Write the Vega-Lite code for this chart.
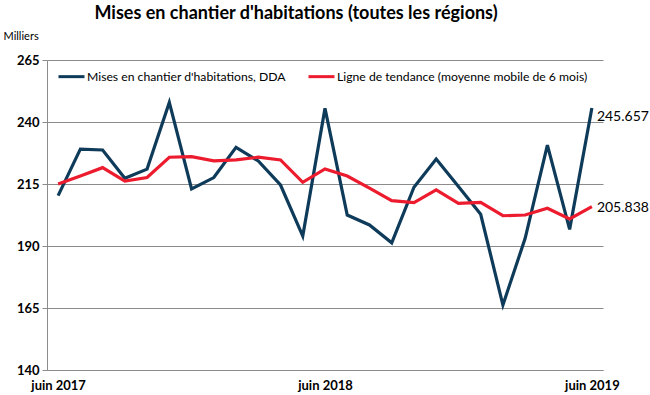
{
  "$schema": "https://vega.github.io/schema/vega-lite/v6.json",
  "width": 556,
  "height": 310,
  "autosize": {"type": "none"},
  "padding": {"left": 47, "top": 60, "right": 47, "bottom": 25},
  "background": "white",
  "config": {"font": "Lato", "view": {"stroke": null}},
  "title": {
    "text": "Mises en chantier d'habitations (toutes les régions)",
    "fontSize": 18,
    "fontWeight": "bold",
    "anchor": "middle",
    "frame": "group",
    "dx": -29,
    "dy": -3,
    "color": "black"
  },
  "data": {
    "values": [
      {"mois": "2017-06", "dda": 210.3, "tendance": 215.0},
      {"mois": "2017-07", "dda": 229.1, "tendance": 218.2},
      {"mois": "2017-08", "dda": 228.7, "tendance": 221.6},
      {"mois": "2017-09", "dda": 217.3, "tendance": 216.2},
      {"mois": "2017-10", "dda": 221.0, "tendance": 217.6},
      {"mois": "2017-11", "dda": 247.9, "tendance": 225.8},
      {"mois": "2017-12", "dda": 213.0, "tendance": 226.0},
      {"mois": "2018-01", "dda": 217.6, "tendance": 224.3},
      {"mois": "2018-02", "dda": 229.8, "tendance": 224.7},
      {"mois": "2018-03", "dda": 224.3, "tendance": 225.8},
      {"mois": "2018-04", "dda": 214.6, "tendance": 224.7},
      {"mois": "2018-05", "dda": 194.0, "tendance": 215.7},
      {"mois": "2018-06", "dda": 245.5, "tendance": 221.1},
      {"mois": "2018-07", "dda": 202.5, "tendance": 218.2},
      {"mois": "2018-08", "dda": 198.5, "tendance": 213.3},
      {"mois": "2018-09", "dda": 191.3, "tendance": 208.3},
      {"mois": "2018-10", "dda": 213.7, "tendance": 207.5},
      {"mois": "2018-11", "dda": 225.1, "tendance": 212.6},
      {"mois": "2018-12", "dda": 214.0, "tendance": 207.2},
      {"mois": "2019-01", "dda": 202.8, "tendance": 207.6},
      {"mois": "2019-02", "dda": 166.2, "tendance": 202.2},
      {"mois": "2019-03", "dda": 193.1, "tendance": 202.5},
      {"mois": "2019-04", "dda": 230.7, "tendance": 205.2},
      {"mois": "2019-05", "dda": 196.7, "tendance": 200.9},
      {"mois": "2019-06", "dda": 245.657, "tendance": 205.838}
    ]
  },
  "encoding": {
    "x": {
      "field": "mois",
      "type": "ordinal",
      "scale": {"type": "point", "padding": 0.5},
      "axis": {
        "title": null,
        "values": ["2017-06", "2018-06", "2019-06"],
        "labelExpr": "'juin ' + slice(datum.value, 0, 4)",
        "labelAngle": 0,
        "labelFontSize": 13,
        "labelFontWeight": "bold",
        "labelColor": "black",
        "labelPadding": 9,
        "ticks": false,
        "domainColor": "#8c8c8c",
        "grid": false
      }
    }
  },
  "layer": [
    {
      "mark": {"type": "line", "strokeWidth": 3.2},
      "encoding": {
        "y": {
          "field": "dda",
          "type": "quantitative",
          "scale": {"domain": [140, 265], "nice": false, "zero": false},
          "axis": {
            "title": "Milliers",
            "titleAngle": 0,
            "titleAlign": "left",
            "titleBaseline": "middle",
            "titleX": -44,
            "titleY": -24,
            "titleFontSize": 11,
            "titleFontWeight": "normal",
            "titleColor": "black",
            "values": [140, 165, 190, 215, 240, 265],
            "labelFontSize": 13,
            "labelFontWeight": "bold",
            "labelColor": "black",
            "labelPadding": 3,
            "tickSize": 5,
            "tickColor": "#8c8c8c",
            "domainColor": "#8c8c8c",
            "gridColor": "#8c8c8c",
            "grid": true
          }
        },
        "color": {
          "datum": "Mises en chantier d'habitations, DDA",
          "type": "nominal",
          "scale": {
            "domain": ["Mises en chantier d'habitations, DDA", "Ligne de tendance (moyenne mobile de 6 mois)"],
            "range": ["#0f3b5a", "#ec1b2e"]
          },
          "legend": {
            "orient": "none",
            "legendX": 10,
            "legendY": 2,
            "direction": "horizontal",
            "title": null,
            "symbolType": "stroke",
            "symbolStrokeWidth": 3,
            "symbolSize": 676,
            "labelFontSize": 12.2,
            "labelColor": "black",
            "labelOffset": 1,
            "columnPadding": 16,
            "labelLimit": 400
          }
        }
      }
    },
    {
      "mark": {"type": "line", "strokeWidth": 3.2},
      "encoding": {
        "y": {"field": "tendance", "type": "quantitative"},
        "color": {"datum": "Ligne de tendance (moyenne mobile de 6 mois)", "type": "nominal"}
      }
    },
    {
      "transform": [{"filter": "datum.mois == '2019-06'"}],
      "mark": {"type": "text", "align": "left", "dx": 5, "dy": 9, "fontSize": 14, "color": "black"},
      "encoding": {
        "y": {"field": "dda", "type": "quantitative"},
        "text": {"field": "dda", "type": "quantitative", "format": ".3f"}
      }
    },
    {
      "transform": [{"filter": "datum.mois == '2019-06'"}],
      "mark": {"type": "text", "align": "left", "dx": 5, "dy": 1, "fontSize": 14, "color": "black"},
      "encoding": {
        "y": {"field": "tendance", "type": "quantitative"},
        "text": {"field": "tendance", "type": "quantitative", "format": ".3f"}
      }
    }
  ]
}
